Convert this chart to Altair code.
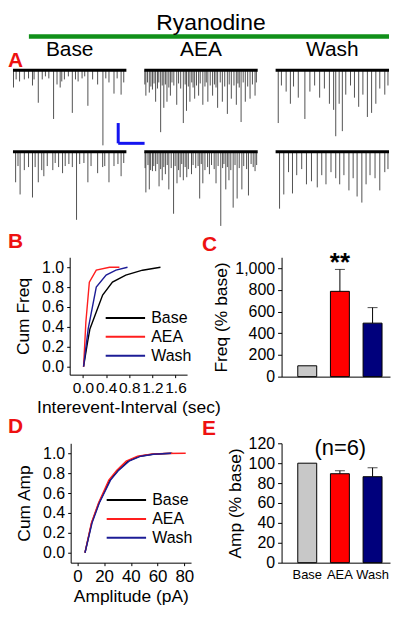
import altair as alt
import pandas as pd

FONT = "Liberation Sans"
LETTER_RED = "#ee1111"
GREEN = "#11901a"
SCALEBAR_BLUE = "#1414f0"

conditions = ["Base", "AEA", "Wash"]
line_colors = ["#000000", "#ff1e1e", "#1c1c96"]
bar_fills = ["#c8c8c8", "#ff0000", "#00007c"]

# ---------- Panel A: example traces (spike time in s, amplitude in pA) ----------
trace_seconds = 4.3
base1_t = [0.02, 0.12, 0.25, 0.43, 0.59, 0.74, 0.80, 0.96, 1.11, 1.23, 1.36, 1.54, 1.67, 1.79, 1.85, 1.95,
           2.10, 2.25, 2.37, 2.47, 2.62, 2.72, 2.84, 3.02, 3.21, 3.41, 3.52, 3.64, 3.83, 3.95, 4.10, 4.20]
base1_a = [17, 9, 11, 9, 8, 15, 9, 32, 9, 6, 8, 48, 14, 17, 11, 9,
           6, 42, 9, 11, 8, 6, 35, 9, 14, 74, 8, 12, 23, 8, 24, 12]
base2_t = [0.10, 0.19, 0.27, 0.43, 0.59, 0.74, 0.84, 0.96, 1.09, 1.17, 1.30, 1.51, 1.60, 1.73, 1.88, 1.98,
           2.12, 2.25, 2.41, 2.53, 2.69, 2.84, 2.96, 3.21, 3.40, 3.48, 3.64, 3.83, 3.98, 4.10, 4.20]
base2_a = [30, 14, 42, 18, 15, 45, 15, 30, 18, 24, 14, 18, 11, 15, 21, 14,
           12, 15, 67, 12, 11, 30, 14, 21, 15, 14, 30, 14, 12, 24, 11]
aea1_t = [0.06, 0.19, 0.31, 0.43, 0.62, 0.74, 0.86, 0.99, 1.23, 1.48, 1.60, 1.73, 1.91, 2.06, 2.22, 2.41,
          2.59, 2.78, 2.96, 3.15, 3.30, 3.49, 3.67, 3.83, 4.01, 4.20,
          0.02, 0.12, 0.25, 0.37, 0.50, 0.55, 0.68, 0.80, 0.93, 1.05, 1.12, 1.30, 1.38, 1.55, 1.67, 1.80,
          1.85, 1.98, 2.12, 2.30, 2.35, 2.50, 2.66, 2.72, 2.88, 3.05, 3.22, 3.40, 3.55, 3.60, 3.75, 3.92,
          4.10, 4.25]
aea1_a = [25, 22, 19, 31, 61, 37, 31, 25, 34, 52, 40, 31, 28, 25, 34, 31,
          25, 37, 31, 43, 28, 34, 51, 31, 28, 25,
          14, 12, 16, 13, 18, 12, 15, 14, 17, 12, 15, 13, 18, 14, 16, 12,
          17, 15, 13, 16, 12, 15, 14, 17, 12, 16, 14, 15, 13, 17, 12, 16,
          14, 12]
aea2_t = [0.06, 0.19, 0.31, 0.43, 0.56, 0.68, 0.80, 0.93, 1.11, 1.24, 1.36, 1.48, 1.61, 1.79, 2.10, 2.22,
          2.47, 2.72, 2.90, 3.09, 3.21, 3.37, 3.52, 3.70, 3.95, 4.20,
          0.03, 0.14, 0.24, 0.36, 0.49, 0.62, 0.74, 0.87, 1.02, 1.17, 1.30, 1.42, 1.55, 1.67, 1.85, 1.95,
          2.04, 2.16, 2.30, 2.40, 2.55, 2.65, 2.80, 2.97, 3.02, 3.15, 3.28, 3.44, 3.60, 3.77, 3.88, 4.05,
          4.13, 4.26]
aea2_a = [40, 37, 19, 19, 34, 28, 22, 37, 61, 31, 25, 28, 25, 22, 46, 31,
          22, 31, 73, 37, 28, 55, 46, 37, 43, 19,
          16, 13, 18, 14, 12, 17, 15, 13, 16, 14, 18, 12, 15, 17, 13, 16,
          14, 12, 18, 15, 13, 17, 14, 16, 12, 15, 18, 13, 16, 14, 17, 12,
          15, 13]
wash1_t = [0.10, 0.22, 0.40, 0.56, 0.68, 0.86, 1.11, 1.30, 1.48, 1.67, 1.85, 2.04, 2.20, 2.28, 2.41, 2.53,
           2.66, 2.84, 2.99, 3.15, 3.31, 3.48, 3.64, 3.80, 3.95, 4.14, 4.26]
wash1_a = [52, 15, 21, 33, 16, 27, 48, 21, 15, 27, 18, 33, 39, 65, 33, 60,
           24, 15, 27, 36, 24, 46, 42, 33, 18, 24, 15]
wash2_t = [0.15, 0.31, 0.49, 0.64, 0.80, 0.99, 1.17, 1.36, 1.58, 1.75, 1.91, 2.10, 2.28, 2.43, 2.59, 2.78,
           2.94, 3.09, 3.27, 3.43, 3.58, 3.77, 3.95, 4.14, 4.26]
wash2_a = [56, 42, 20, 41, 23, 17, 32, 29, 35, 23, 32, 20, 26, 32, 23, 38,
           26, 44, 50, 32, 23, 26, 38, 20, 17]
# scale bar: 20 pA x 1 s, drawn beside the first Base trace
scalebar_t = [3.99, 4.99]
scalebar_pa = [52, 72]

# ---------- Panel B: cumulative inter-event interval ----------
iei_x = {
    "Base": [0.01, 0.08, 0.12, 0.23, 0.34, 0.51, 0.74, 1.03, 1.34],
    "AEA": [0.01, 0.05, 0.11, 0.23, 0.46, 0.63],
    "Wash": [0.01, 0.09, 0.23, 0.40, 0.57, 0.77],
}
iei_y = {
    "Base": [0.0, 0.25, 0.38, 0.55, 0.72, 0.85, 0.92, 0.97, 1.0],
    "AEA": [0.0, 0.45, 0.85, 0.97, 1.0, 1.0],
    "Wash": [0.0, 0.38, 0.80, 0.92, 0.97, 1.0],
}
# ---------- Panel C: frequency (% base) ----------
freq_mean = [100, 786, 493]
freq_err = [0, 202, 143]
# ---------- Panel D: cumulative amplitude ----------
amp_x = {
    "Base": [5.7, 10.7, 16.1, 24.3, 30.5, 37.9, 46.6, 56, 71],
    "AEA": [5.7, 10.5, 15.8, 23.5, 29.5, 36.5, 45, 55, 65, 81],
    "Wash": [5.7, 11, 16.4, 24.8, 31, 38.6, 47.5, 57, 70],
}
amp_y = {
    "Base": [0, 0.3, 0.5, 0.73, 0.83, 0.92, 0.97, 0.99, 1.0],
    "AEA": [0, 0.3, 0.5, 0.73, 0.83, 0.92, 0.97, 0.99, 0.998, 1.0],
    "Wash": [0, 0.3, 0.5, 0.73, 0.83, 0.92, 0.97, 0.99, 1.0],
}
# ---------- Panel E: amplitude (% base) ----------
amp_mean = [100, 89.4, 86.4]
amp_err = [0, 3, 9]

# ================= tables =================
rows = []
for cond, rep, ts, amps in [("Base", 1, base1_t, base1_a), ("Base", 2, base2_t, base2_a),
                            ("AEA", 1, aea1_t, aea1_a), ("AEA", 2, aea2_t, aea2_a),
                            ("Wash", 1, wash1_t, wash1_a), ("Wash", 2, wash2_t, wash2_a)]:
    rows.append(dict(cond=cond, rep=rep, kind="base", t=0.0, t2=trace_seconds, a0=0, a1=0))
    for t, a in zip(ts, amps):
        rows.append(dict(cond=cond, rep=rep, kind="spike", t=t, t2=t, a0=0, a1=a))
rows.append(dict(cond="Base", rep=1, kind="scale", t=scalebar_t[0], t2=scalebar_t[0],
                 a0=scalebar_pa[0], a1=scalebar_pa[1]))
rows.append(dict(cond="Base", rep=1, kind="scale", t=scalebar_t[0], t2=scalebar_t[1],
                 a0=scalebar_pa[1], a1=scalebar_pa[1]))
trace_df = pd.DataFrame(rows)


def cum_table(xs, ys):
    out = []
    for c in conditions:
        for i, (x, y) in enumerate(zip(xs[c], ys[c])):
            out.append(dict(cond=c, x=x, y=y, i=i))
    return pd.DataFrame(out)


iei_df = cum_table(iei_x, iei_y)
ampc_df = cum_table(amp_x, amp_y)
freq_df = pd.DataFrame(dict(cond=conditions, mean=freq_mean, err=freq_err))
freq_df["top"] = freq_df["mean"] + freq_df["err"]
ampb_df = pd.DataFrame(dict(cond=conditions, mean=amp_mean, err=amp_err))
ampb_df["top"] = ampb_df["mean"] + ampb_df["err"]


def letter(txt, dx, offset):
    return alt.Title(txt, anchor="start", frame="group", dx=dx, offset=offset, fontSize=21,
                     fontWeight="bold", color=LETTER_RED, font=FONT)


blank_df = pd.DataFrame({"label": [""]})


def spacer(w):
    return alt.Chart(blank_df).mark_text().encode(
        x=alt.value(0), y=alt.value(0), text="label:N").properties(width=w, height=10)


# ================= header =================
hdr_df = pd.DataFrame({"label": ["Ryanodine"]})
header = alt.layer(
    alt.Chart(hdr_df).mark_rule(color=GREEN, strokeWidth=4.5).encode(
        x=alt.value(16), x2=alt.value(378), y=alt.value(27)),
    alt.Chart(hdr_df).mark_text(font=FONT, fontSize=23, baseline="alphabetic", color="black").encode(
        x=alt.value(199), y=alt.value(21), text="label:N"),
).properties(width=379, height=30)

# ================= traces =================
tx = alt.X("t:Q", scale=alt.Scale(domain=[0, trace_seconds], nice=False, zero=False), axis=None)
ty = alt.Y("a0:Q", scale=alt.Scale(domain=[-2, 78.4], nice=False, zero=False, reverse=True), axis=None)
spk = alt.Chart().transform_filter("datum.kind == 'spike'").mark_rule(
    color="#333333", strokeWidth=1.0, opacity=0.85).encode(x=tx, y=ty, y2="a1:Q")
bsl = alt.Chart().transform_filter("datum.kind == 'base'").mark_rule(
    color="black", strokeWidth=3).encode(x=tx, x2="t2:Q", y=ty)
sbar = alt.Chart().transform_filter("datum.kind == 'scale'").mark_rule(
    color=SCALEBAR_BLUE, strokeWidth=3).encode(x=tx, x2="t2:Q", y=ty, y2="a1:Q")
traces = alt.layer(spk, bsl, sbar, data=trace_df).properties(width=114, height=82).facet(
    column=alt.Column("cond:N", sort=conditions,
                      header=alt.Header(title=None, labelFontSize=21, labelFont=FONT, labelPadding=8,
                                        labelColor="black")),
    row=alt.Row("rep:N", header=alt.Header(title=None, labels=False)),
    spacing={"column": 18, "row": 0},
    bounds="flush",
    title=alt.Title("A", anchor="start", frame="group", dx=-5, dy=32, offset=0, fontSize=21,
                    fontWeight="bold", color=LETTER_RED, font=FONT),
)

# ================= B =================
legend_kw = dict(orient="none", legendX=46, legendY=51, title=None, labelFontSize=16, labelFont=FONT,
                 symbolType="M-2.2,0L2.2,0", symbolSize=324, symbolStrokeWidth=2, labelOffset=16,
                 rowPadding=1, padding=0, labelColor="black")
chart_b = alt.Chart(iei_df).mark_line(strokeWidth=1.4).encode(
    x=alt.X("x:Q", scale=alt.Scale(domain=[-0.23, 1.8], nice=False, zero=False),
            axis=alt.Axis(values=[0, 0.4, 0.8, 1.2, 1.6], format=".1f", title="Interevent-Interval (sec)",
                          labelOverlap=False, labelFlush=False, labelPadding=3, titlePadding=3,
                          labelFontSize=15.5)),
    y=alt.Y("y:Q", scale=alt.Scale(domain=[-0.08, 1.1], nice=False, zero=False),
            axis=alt.Axis(values=[0, 0.2, 0.4, 0.6, 0.8, 1.0], format=".1f", title="Cum Freq",
                          labelPadding=3, titlePadding=9, labelOverlap=False)),
    color=alt.Color("cond:N", scale=alt.Scale(domain=conditions, range=line_colors),
                    legend=alt.Legend(**legend_kw)),
    order="i:Q",
).properties(width=118, height=118, title=letter("B", -62, 5))


# ================= C / E bars =================
def bar_panel(df, ymax, yvals, ytitle, show_labels):
    bx = alt.X("cond:N", sort=conditions,
               scale=alt.Scale(paddingInner=0.42, paddingOuter=0.37, align=0.67),
               axis=alt.Axis(title=None, labels=show_labels, ticks=False, labelAngle=0, labelFontSize=13,
                             labelPadding=6))
    yscale = alt.Scale(domain=[0, ymax], nice=False)
    yaxis = alt.Axis(values=yvals, title=ytitle, labelPadding=3, titlePadding=4, tickSize=4,
                     labelOverlap=False)
    by = alt.Y("mean:Q", scale=yscale, axis=yaxis)
    bars = alt.Chart(df).mark_bar(stroke="black", strokeWidth=1).encode(
        x=bx, y=by,
        fill=alt.Fill("cond:N", scale=alt.Scale(domain=conditions, range=bar_fills), legend=None))
    err = alt.Chart(df).transform_filter("datum.err > 0").mark_rule(color="black", strokeWidth=1).encode(
        x=bx, y=by, y2="top:Q")
    cap = alt.Chart(df).transform_filter("datum.err > 0").mark_tick(
        color="black", size=10, thickness=1).encode(x=bx, y=alt.Y("top:Q", scale=yscale, axis=yaxis))
    return bx, [bars, err, cap]


bx_c, layers_c = bar_panel(freq_df, 1100, [0, 200, 400, 600, 800, 1000], "Freq (% base)", False)
stars = alt.Chart(freq_df).transform_filter("datum.cond == 'AEA'").mark_text(
    text="**", fontSize=26, fontWeight="bold", font=FONT, color="black", baseline="alphabetic").encode(
    x=bx_c, y=alt.value(14))
chart_c = alt.layer(*layers_c, stars).properties(width=109, height=120, title=letter("C", -80, -5))

bx_e, layers_e = bar_panel(ampb_df, 120, [0, 20, 40, 60, 80, 100, 120], "Amp (% base)", True)
n_df = pd.DataFrame({"label": ["(n=6)"]})
ntext = alt.Chart(n_df).mark_text(fontSize=22, font=FONT, color="black", baseline="middle").encode(
    x=alt.value(59), y=alt.value(5), text="label:N")
chart_e = alt.layer(*layers_e, ntext).properties(width=109, height=120, title=letter("E", -80, -4))

# ================= D =================
chart_d = alt.Chart(ampc_df).mark_line(strokeWidth=1.4).encode(
    x=alt.X("x:Q", scale=alt.Scale(domain=[-5, 85], nice=False, zero=False),
            axis=alt.Axis(values=[0, 20, 40, 60, 80], title="Amplitude (pA)", labelFontSize=17,
                          labelPadding=3, titlePadding=3)),
    y=alt.Y("y:Q", scale=alt.Scale(domain=[-0.1, 1.1], nice=False, zero=False),
            axis=alt.Axis(values=[0, 0.2, 0.4, 0.6, 0.8, 1.0], format=".1f", title="Cum Amp",
                          labelPadding=3, titlePadding=9, labelOverlap=False)),
    color=alt.Color("cond:N", scale=alt.Scale(domain=conditions, range=line_colors),
                    legend=alt.Legend(**{**legend_kw, "legendY": 47})),
    order="i:Q",
).properties(width=121, height=120, title=letter("D", -63, 6))

row_bc = alt.hconcat(spacer(57), chart_b, spacer(95), chart_c, spacing=0, bounds="flush").resolve_scale(
    color="independent", fill="independent")
row_de = alt.hconcat(spacer(58), chart_d, spacer(91), chart_e, spacing=0, bounds="flush").resolve_scale(
    color="independent", fill="independent")

chart = alt.vconcat(header, traces, row_bc, row_de, spacing=0, bounds="full").resolve_scale(
    color="independent", fill="independent"
).properties(padding=0).configure(font=FONT).configure_view(stroke=None).configure_axis(
    grid=False, domainColor="black", tickColor="black", labelColor="black", titleColor="black",
    labelFont=FONT, titleFont=FONT, titleFontWeight="normal", labelFontSize=16, titleFontSize=17.5,
    tickSize=3, domainWidth=1
)

chart.save("out.html", embed_options={"renderer": "svg", "actions": False})
